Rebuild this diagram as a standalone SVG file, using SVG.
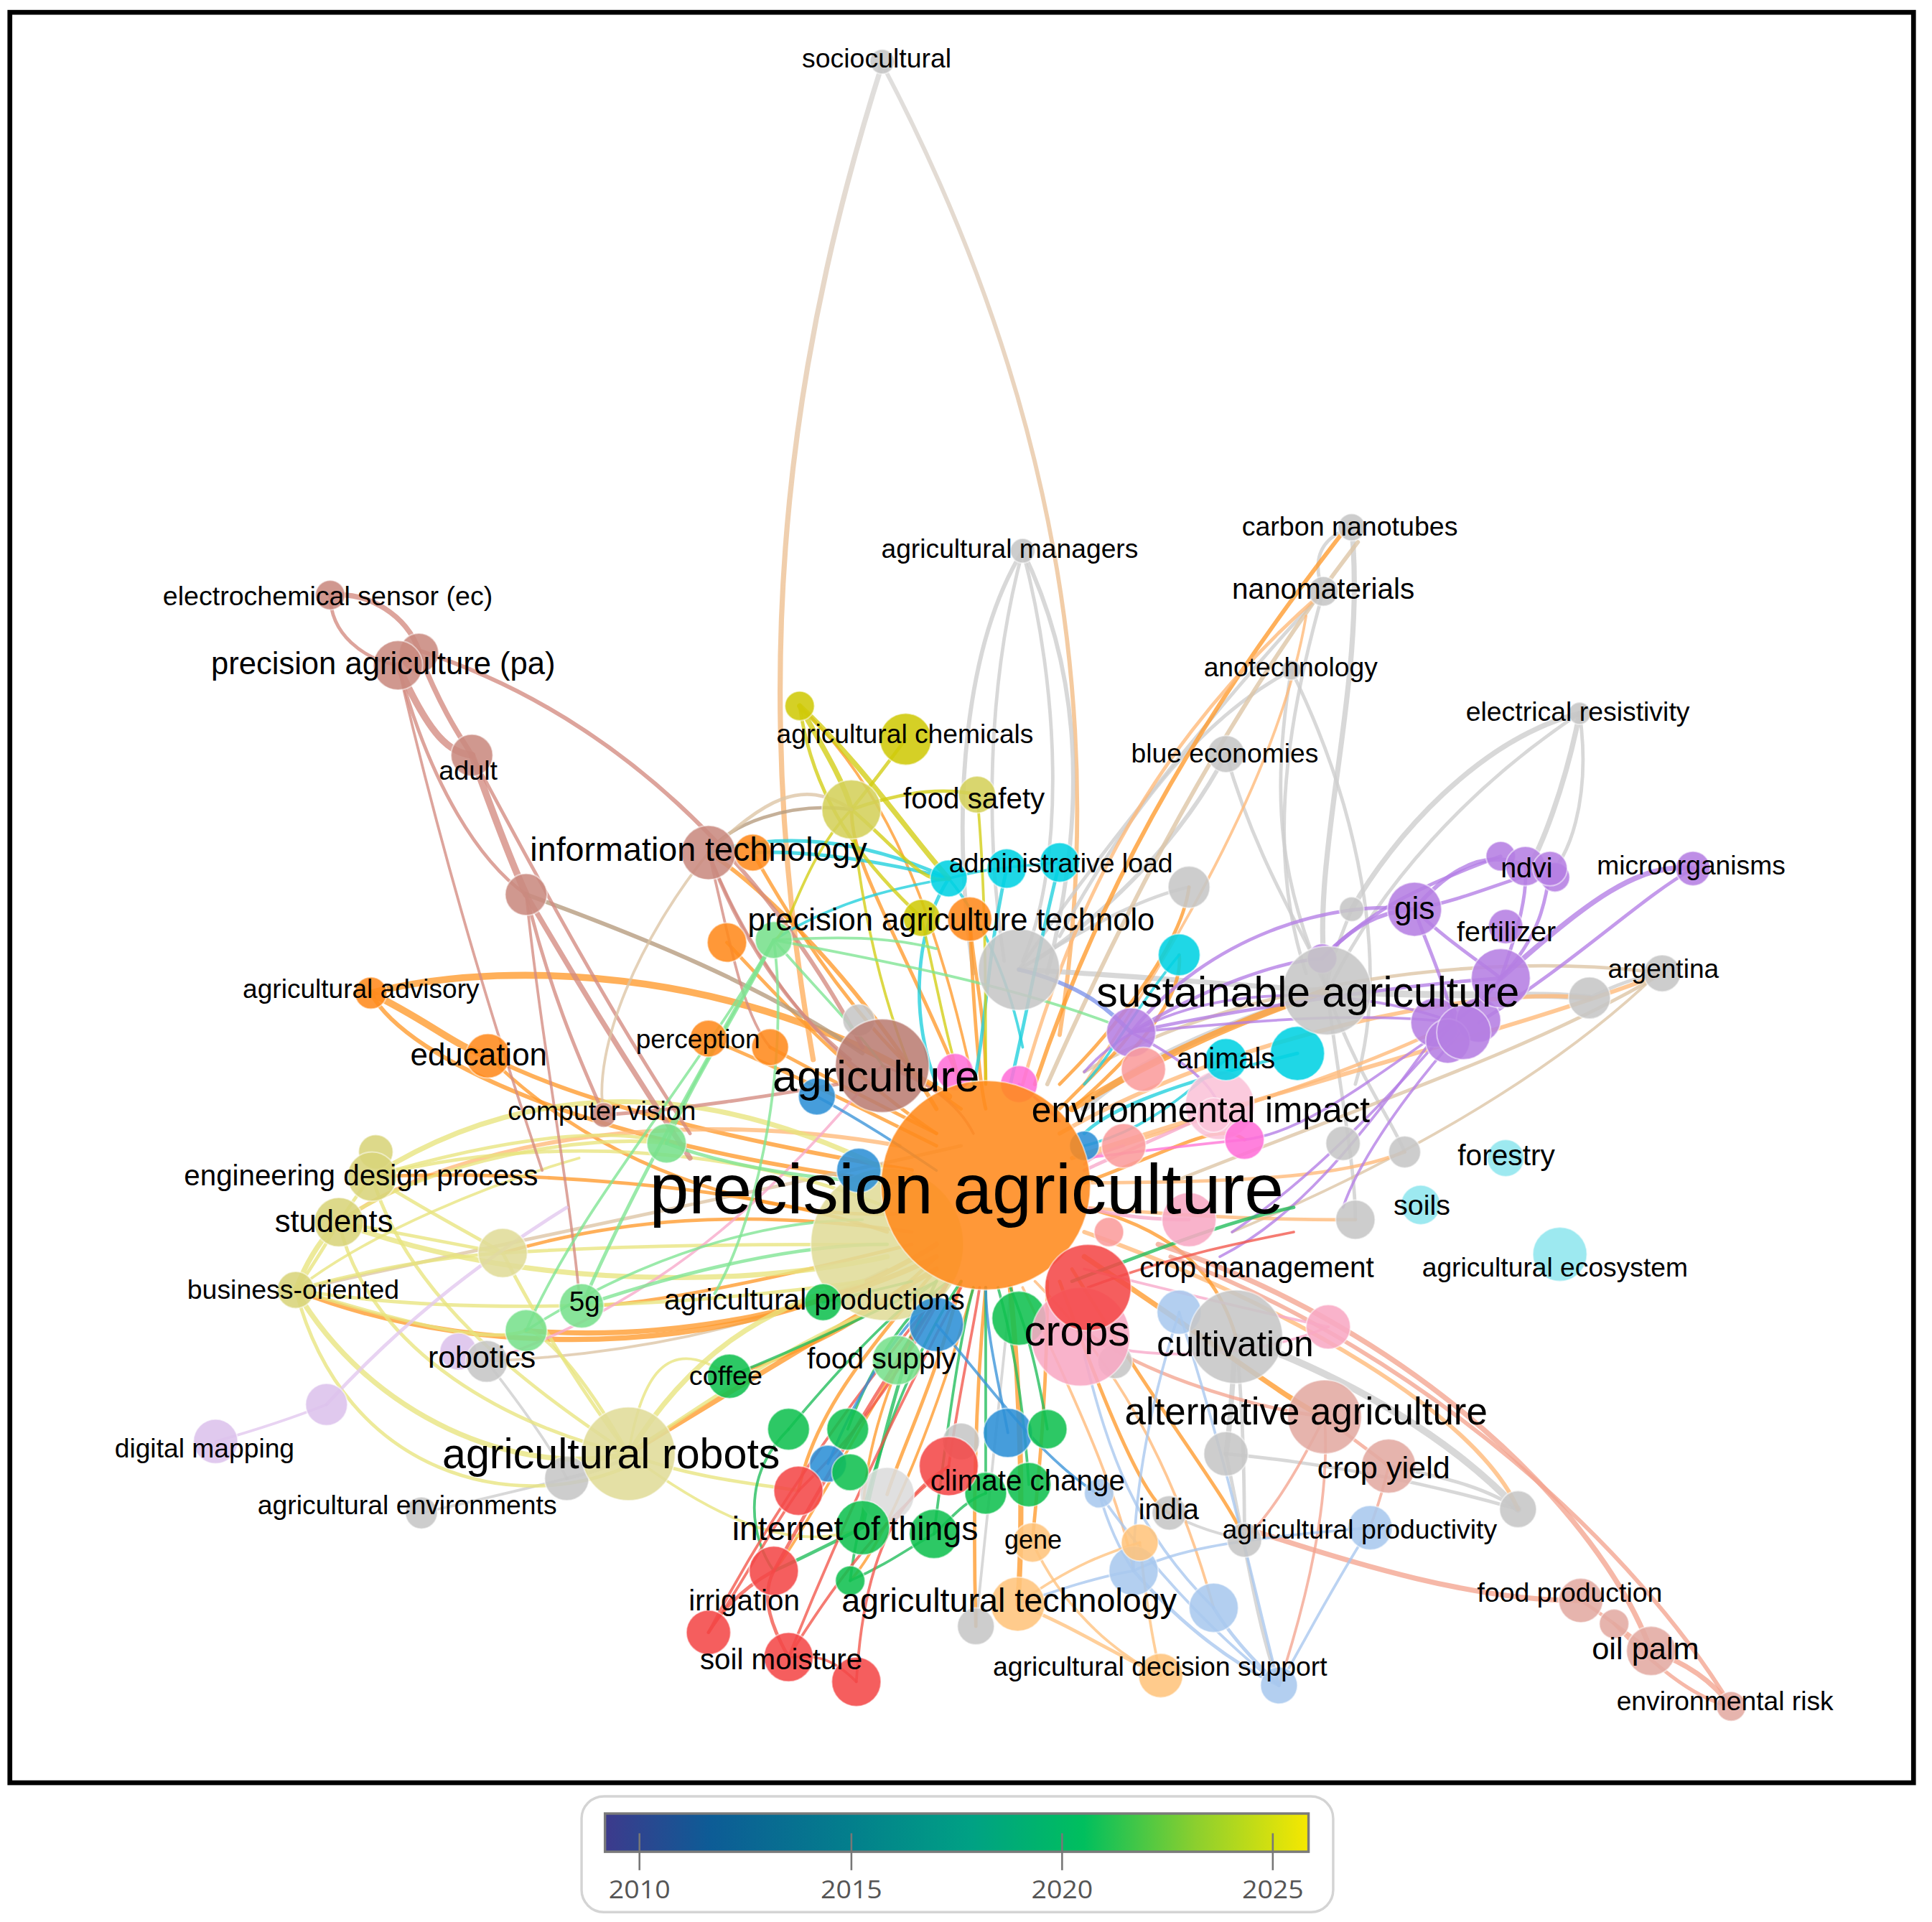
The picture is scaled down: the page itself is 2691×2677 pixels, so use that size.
<svg xmlns="http://www.w3.org/2000/svg" width="2691" height="2677" viewBox="0 0 2691 2677">
<defs>
<style>
.e{fill:none;stroke-linecap:round;stroke-opacity:.78}
.so{stroke:#ff9a2c}.sol{stroke:#ffb877}.sg{stroke:#cdcdcd}.sp{stroke:#b47ee6}.sc{stroke:#1fcfdc}.sy{stroke:#e8e47e}.syb{stroke:#d2cd12}.sb{stroke:#d38a80}.slg{stroke:#7de492}.sgn{stroke:#1fbd5a}.sr{stroke:#f2564a}.slb{stroke:#a8c6ee}.slo{stroke:#ffc27e}.ss{stroke:#f4a48f}.spk{stroke:#f7a8c9}.sm{stroke:#ff74d6}.sbl{stroke:#3a94d8}.slv{stroke:#e2c6ee}.st{stroke:#dcc4a4}.sbo{stroke:#b59a7c}.sbp{stroke:#7d93ea}
.n{stroke:#ffffff;stroke-opacity:.5;stroke-width:1.2;fill-opacity:.88}
.fo{fill:#ff8a1c}.fbr{fill:#c98a80}.fbd{fill:#bb7d73}.fpy{fill:#e0dc98}.fyl{fill:#d8d47a}.fyb{fill:#cfca08}.fyo{fill:#d4d05a}.fcy{fill:#00d2e2}.fpu{fill:#b57ee2}.fgr{fill:#c6c6c6}.fgn{fill:#10c050}.flg{fill:#78e08c}.frd{fill:#f44848}.fpk{fill:#f8a8c4}.fpp{fill:#fbc3d8}.fmg{fill:#ff70d8}.fsm{fill:#fa9c9c}.fbl{fill:#2c8fd6}.flb{fill:#a9c8ee}.flo{fill:#ffc47c}.flc{fill:#8fe6ee}.flv{fill:#dcc2ec}.fro{fill:#e3aaa2}.fgw{fill:#dcdcdc}
.l{font-family:"Liberation Sans",Arial,sans-serif;text-anchor:middle;fill:#000;transform:translateY(2px)}
.lg{font-family:"Open Sans","Noto Sans","Liberation Sans",sans-serif;text-anchor:middle;fill:#555}
.w1{stroke-width:2.2}.w2{stroke-width:2.8}.w3{stroke-width:3.4}.w4{stroke-width:4.2}.w5{stroke-width:5.6}
</style>
<linearGradient id="gsoc" gradientUnits="userSpaceOnUse" x1="0" y1="50" x2="0" y2="800">
<stop offset="0" stop-color="#d6d6d6"/><stop offset="1" stop-color="#ffae5c"/>
</linearGradient>
<linearGradient id="gleg" x1="0" y1="0" x2="1" y2="0">
<stop offset="0" stop-color="#3d3a8c"/><stop offset="0.15" stop-color="#0d5c96"/><stop offset="0.35" stop-color="#037f8c"/><stop offset="0.52" stop-color="#00a184"/><stop offset="0.68" stop-color="#00bf5e"/><stop offset="0.84" stop-color="#8ccf2e"/><stop offset="1" stop-color="#f6e800"/>
</linearGradient>
</defs>
<rect width="2691" height="2677" fill="#ffffff"/>
<g transform="scale(1.7162,1.716)">
<rect x="8" y="10" width="1545" height="1437" fill="none" stroke="#000" stroke-width="3.9"/>

<g id="connectors">
<path class="e w4" stroke="url(#gsoc)" d="M716,52 C650,260 600,520 660,860"/>
<path class="e w3" stroke="url(#gsoc)" d="M716,52 C820,250 910,520 860,840"/>
<path class="e sg w3" d="M830,447 C785,520 770,650 790,790"/>
<path class="e sg w2" d="M830,447 C800,560 800,680 815,780"/>
<path class="e sg w3" d="M830,447 C875,540 885,650 850,790"/>
<path class="e sg w2" d="M830,447 C860,560 865,700 830,780"/>
<path class="e sg w2" d="M1097,428 C1060,440 1070,470 1074,480"/>
<path class="e sg w4" d="M1097,428 C1110,560 1060,700 1077,804"/>
<path class="e sg w2" d="M1074,480 C1040,600 1030,700 1060,790"/>
<path class="e sg w2" d="M1074,480 C1000,560 900,680 827,787"/>
<path class="e sg w2" d="M1048,544 C1100,650 1130,780 1100,880"/>
<path class="e sg w2" d="M1048,544 C1030,650 1040,720 1077,804"/>
<path class="e sg w2" d="M1048,544 C980,580 920,650 860,760"/>
<path class="e sg w3" d="M995,612 C960,680 900,740 840,780"/>
<path class="e sg w2" d="M995,612 C1020,700 1060,760 1077,800"/>
<path class="e sg w4" d="M1282,579 C1200,600 1130,680 1097,738"/>
<path class="e sg w2" d="M1282,579 C1190,640 1120,720 1080,800"/>
<path class="e sg w4" d="M1282,579 C1270,640 1250,690 1240,705"/>
<path class="e sg w2" d="M1282,579 C1292,650 1272,700 1256,710"/>
<path class="e sg w2" d="M1097,738 C1080,780 1078,790 1077,804"/>
<path class="e sg w5" d="M1077,804 C1160,810 1250,805 1290,810"/>
<path class="e sg w2" d="M1290,810 C1310,800 1330,792 1349,790"/>
<path class="e sg w2" d="M1077,804 C1100,870 1130,910 1140,935"/>
<path class="e sg w2" d="M1077,804 C1090,900 1100,950 1100,990"/>
<path class="e sg w5" d="M1077,804 C1000,830 920,860 880,900"/>
<path class="e sg w5" d="M1003,1085 C1100,1120 1180,1170 1232,1225"/>
<path class="e sg w4" d="M1003,1085 C1000,1130 998,1160 995,1180"/>
<path class="e sg w2" d="M1003,1085 C1010,1150 1010,1220 1010,1250"/>
<path class="e sg w2" d="M995,1180 C1010,1250 1020,1320 1038,1368"/>
<path class="e sg w2" d="M995,1180 C1100,1190 1180,1210 1232,1225"/>
<path class="e sg w2" d="M827,787 C870,760 920,730 965,720"/>
<path class="e sg w4" d="M827,787 C900,790 1000,800 1077,804"/>
<path class="e sg w2" d="M460,1200 C480,1195 500,1190 510,1180"/>
<path class="e sg w1" d="M395,1105 C430,1150 450,1180 460,1200"/>
<path class="e st w1" d="M395,1105 C500,1100 620,1080 720,1030"/>
<path class="e sg w1" d="M342,1228 C400,1215 440,1205 460,1200"/>
<path class="e sg w2" d="M1127,1190 C1180,1200 1210,1210 1232,1225"/>
<path class="e sg w1" d="M949,1228 C970,1240 990,1245 1010,1250"/>
<path class="e sg w1" d="M792,1320 C800,1250 810,1150 820,1050"/>
<path class="e st w3" d="M850,880 C930,700 1010,560 1102,440"/>
<path class="e so w3" d="M840,880 C900,700 990,560 1090,432"/>
<path class="e sol w2" d="M830,880 C880,700 960,580 1072,482"/>
<path class="e sol w1" d="M880,880 C960,760 1040,620 1060,500"/>
<path class="e st w2" d="M1349,790 C1200,770 1000,800 880,870"/>
<path class="e st w2" d="M1349,790 C1250,850 1100,900 950,960"/>
<path class="e st w1" d="M1340,795 C1250,880 1120,950 1000,1000"/>
<path class="e so w5" d="M301,806 C420,775 620,790 770,890"/>
<path class="e so w3" d="M301,806 C330,860 480,930 730,960"/>
<path class="e so w5" d="M301,806 C350,830 370,850 396,857"/>
<path class="e so w3" d="M396,857 C480,900 620,930 740,950"/>
<path class="e so w2" d="M396,857 C500,960 640,990 730,985"/>
<path class="e so w4" d="M240,1047 C400,1110 620,1100 760,1010"/>
<path class="e sol w3" d="M275,992 C380,920 560,900 730,930"/>
<path class="e st w2" d="M240,1047 C450,1000 650,960 780,930"/>
<path class="e so w4" d="M427,1080 C550,1090 680,1060 760,1020"/>
<path class="e so w2" d="M575,843 C640,870 700,900 760,930"/>
<path class="e so w2" d="M625,850 C680,880 720,900 760,920"/>
<path class="e so w2" d="M590,765 C650,830 700,880 760,920"/>
<path class="e so w2" d="M611,692 C660,780 720,860 780,900"/>
<path class="e so w3" d="M760,900 C700,800 620,720 575,692"/>
<path class="e so w2" d="M787,746 C790,820 795,880 800,900"/>
<path class="e sol w3" d="M860,920 C1000,840 1200,800 1290,810"/>
<path class="e sol w3" d="M870,940 C1050,880 1250,830 1349,790"/>
<path class="e sol w2" d="M880,940 C1000,900 1100,870 1180,830"/>
<path class="e sol w2" d="M880,960 C1050,960 1100,950 1140,935"/>
<path class="e sol w2" d="M880,980 C1000,990 1060,990 1100,990"/>
<path class="e so w5" d="M870,900 C950,850 1030,820 1077,804"/>
<path class="e so w2" d="M870,900 C940,840 960,800 957,775"/>
<path class="e so w2" d="M860,880 C920,820 960,760 965,720"/>
<path class="e sol w3" d="M880,1000 C1050,1060 1200,1150 1232,1225"/>
<path class="e so w4" d="M880,1020 C1000,1100 1050,1140 1075,1150"/>
<path class="e so w2" d="M870,1030 C950,1160 1000,1220 1010,1250"/>
<path class="e so w2" d="M860,1040 C900,1150 930,1220 949,1228"/>
<path class="e so w2" d="M850,1040 C850,1150 840,1220 838,1252"/>
<path class="e so w4" d="M820,1045 C830,1150 830,1250 826,1302"/>
<path class="e so w2" d="M800,1045 C790,1150 790,1250 792,1320"/>
<path class="e so w2" d="M780,1040 C760,1120 730,1180 720,1213"/>
<path class="e so w2" d="M760,1030 C700,1100 660,1150 648,1210"/>
<path class="e so w4" d="M760,1030 C640,1100 560,1150 510,1180"/>
<path class="e so w2" d="M740,1010 C620,1040 520,1060 472,1060"/>
<path class="e so w2" d="M740,1000 C600,980 500,990 408,1017"/>
<path class="e so w2" d="M720,1000 C600,960 420,950 302,955"/>
<path class="e so w2" d="M760,1020 C700,1080 640,1100 592,1117"/>
<path class="e so w2" d="M880,980 C960,1000 990,1040 1003,1085"/>
<path class="e so w2" d="M800,880 C800,820 790,790 787,746"/>
<path class="e so w2" d="M780,880 C730,760 690,700 691,657"/>
<path class="e so w1" d="M790,880 C760,740 720,640 649,573"/>
<path class="e so w2" d="M860,900 C900,860 910,850 918,838"/>
<path class="e so w2" d="M880,960 C960,930 990,910 1010,925"/>
<path class="e so w1" d="M760,1040 C720,1120 700,1180 700,1240"/>
<path class="e so w1" d="M770,1040 C700,1150 650,1250 628,1275"/>
<path class="e so w1" d="M790,1045 C760,1150 720,1250 690,1283"/>
<path class="e sol w1" d="M830,1045 C880,1150 910,1220 920,1275"/>
<path class="e sol w1" d="M840,1040 C900,1100 950,1180 985,1305"/>
<path class="e ss w4" d="M940,1010 C1150,1080 1300,1230 1340,1340"/>
<path class="e ss w3" d="M950,1020 C1160,1100 1330,1260 1405,1385"/>
<path class="e ss w4" d="M1010,1240 C1100,1270 1200,1300 1283,1299"/>
<path class="e ss w2" d="M1283,1299 C1300,1310 1310,1318 1340,1340"/>
<path class="e ss w4" d="M1340,1340 C1370,1350 1390,1365 1405,1385"/>
<path class="e ss w2" d="M1310,1318 C1350,1360 1380,1380 1405,1385"/>
<path class="e ss w2" d="M1075,1150 C1100,1170 1115,1180 1127,1190"/>
<path class="e ss w2" d="M1075,1150 C1000,1140 920,1110 880,1080"/>
<path class="e ss w1" d="M1075,1150 C1050,1200 1030,1230 1010,1250"/>
<path class="e ss w1" d="M1127,1190 C1120,1220 1115,1230 1112,1240"/>
<path class="e ss w1" d="M1075,1150 C1080,1220 1060,1300 1038,1368"/>
<path class="e sp w3" d="M1148,738 C1180,700 1210,690 1238,703"/>
<path class="e sp w2" d="M1148,738 C1190,730 1220,715 1258,705"/>
<path class="e sp w2" d="M1148,738 C1170,760 1200,780 1218,794"/>
<path class="e sp w2" d="M1218,794 C1230,760 1240,730 1238,703"/>
<path class="e sp w2" d="M1218,794 C1250,760 1255,730 1258,705"/>
<path class="e sp w4" d="M1218,794 C1290,730 1330,700 1374,705"/>
<path class="e sp w2" d="M1200,830 C1280,780 1330,730 1374,705"/>
<path class="e sp w2" d="M918,838 C980,800 1040,780 1073,778"/>
<path class="e sp w2" d="M918,838 C980,760 1080,730 1148,738"/>
<path class="e sp w3" d="M1073,778 C1100,750 1120,740 1148,738"/>
<path class="e sp w2" d="M1073,778 C1110,740 1150,720 1218,695"/>
<path class="e sp w1" d="M1180,830 C1120,870 1060,920 1010,925"/>
<path class="e sp w1" d="M1180,830 C1120,900 1060,960 1000,1000"/>
<path class="e sp w1" d="M1165,840 C1100,930 1050,990 990,1020"/>
<path class="e sp w1" d="M1185,838 C1130,900 1100,950 1090,980"/>
<path class="e sp w1" d="M1180,830 C1100,820 1000,830 918,838"/>
<path class="e sp w1" d="M1180,830 C1100,800 950,790 880,870"/>
<path class="e sp w2" d="M1218,794 C1130,800 1000,820 918,838"/>
<path class="e sp w2" d="M1180,830 C1200,815 1210,805 1218,794"/>
<path class="e sp w2" d="M1180,830 C1170,790 1155,760 1148,738"/>
<path class="e sp w1" d="M918,838 C960,860 985,880 990,900"/>
<path class="e sbp w3" d="M827,787 C880,800 900,820 918,838"/>
<path class="e sc w2" d="M770,713 C740,760 740,830 760,880"/>
<path class="e sc w2" d="M817,705 C800,780 800,840 790,880"/>
<path class="e sc w2" d="M860,700 C840,780 830,840 820,880"/>
<path class="e sc w2" d="M770,713 C720,700 660,690 611,692"/>
<path class="e sc w2" d="M575,692 C650,670 720,690 770,713"/>
<path class="e sc w1" d="M770,713 C800,705 810,705 860,700"/>
<path class="e sc w2" d="M1053,855 C950,880 900,900 880,920"/>
<path class="e sc w1" d="M995,860 C950,900 920,920 880,930"/>
<path class="e sc w1" d="M957,775 C920,820 900,860 880,880"/>
<path class="e sc w1" d="M770,713 C800,750 820,800 830,850"/>
<path class="e sc w1" d="M628,763 C680,730 730,720 770,713"/>
<path class="e sy w4" d="M302,955 C420,880 560,870 720,950"/>
<path class="e sy w2" d="M302,955 C440,920 600,930 720,980"/>
<path class="e sy w4" d="M275,992 C400,1040 580,1050 720,1020"/>
<path class="e sy w2" d="M240,1047 C380,1070 560,1060 700,1040"/>
<path class="e sy w4" d="M240,1047 C300,1150 420,1200 510,1180"/>
<path class="e sy w2" d="M240,1047 C280,1200 420,1230 510,1190"/>
<path class="e sy w2" d="M275,992 C300,1100 420,1160 510,1180"/>
<path class="e sy w2" d="M302,955 C330,1050 420,1120 510,1180"/>
<path class="e sy w2" d="M408,1017 C440,1080 480,1140 510,1180"/>
<path class="e sy w2" d="M408,1017 C520,1010 620,1010 720,1010"/>
<path class="e sy w2" d="M302,955 C340,980 380,1000 408,1017"/>
<path class="e sy w2" d="M275,992 C320,1000 370,1010 408,1017"/>
<path class="e sy w2" d="M240,1047 C300,1030 360,1020 408,1017"/>
<path class="e sy w4" d="M240,1047 C250,1020 265,1000 275,992"/>
<path class="e sy w2" d="M302,955 C280,980 260,1020 240,1047"/>
<path class="e sy w4" d="M510,1180 C560,1100 620,1060 700,1040"/>
<path class="e sy w2" d="M510,1180 C600,1120 660,1080 720,1060"/>
<path class="e sy w2" d="M510,1180 C470,1110 440,1080 427,1080"/>
<path class="e sy w2" d="M510,1180 C560,1200 620,1205 648,1210"/>
<path class="e sy w1" d="M510,1180 C590,1240 650,1260 700,1240"/>
<path class="e sy w2" d="M275,992 C350,940 480,920 541,928"/>
<path class="e sy w2" d="M240,1047 C350,1080 400,1090 427,1080"/>
<path class="e sy w2" d="M302,955 C420,920 500,915 541,928"/>
<path class="e sy w1" d="M510,1180 C520,1120 540,1080 592,1117"/>
<path class="e sy w1" d="M240,1047 C300,1000 400,960 470,940"/>
<path class="e syb w4" d="M649,573 C670,610 685,635 691,657"/>
<path class="e syb w4" d="M649,573 C700,620 740,680 770,713"/>
<path class="e syb w2" d="M649,573 C660,650 700,700 748,745"/>
<path class="e syb w2" d="M735,600 C720,620 705,640 691,657"/>
<path class="e syb w2" d="M691,657 C730,690 750,720 770,713"/>
<path class="e syb w2" d="M691,657 C740,640 770,640 793,645"/>
<path class="e syb w1" d="M691,657 C700,750 720,820 740,870"/>
<path class="e syb w1" d="M691,657 C650,700 640,760 628,763"/>
<path class="e sbo w2" d="M691,657 C640,650 590,670 575,692"/>
<path class="e syb w1" d="M748,745 C760,800 770,850 780,880"/>
<path class="e syb w1" d="M793,645 C800,720 800,800 800,880"/>
<path class="e sb w4" d="M268,483 C300,480 330,500 340,528"/>
<path class="e sb w2" d="M268,483 C268,515 295,535 323,540"/>
<path class="e sb w5" d="M323,540 C350,600 365,610 383,613"/>
<path class="e sb w4" d="M340,530 C360,580 375,600 383,613"/>
<path class="e sb w5" d="M383,613 C400,660 415,700 427,726"/>
<path class="e sb w2" d="M323,540 C350,640 390,700 427,726"/>
<path class="e sb w3" d="M340,528 C500,580 620,700 700,850"/>
<path class="e sb w4" d="M427,726 C470,800 520,880 560,940"/>
<path class="e sbo w3" d="M427,726 C520,760 620,800 700,855"/>
<path class="e sb w2" d="M427,726 C450,820 480,880 490,905"/>
<path class="e sb w1" d="M427,726 C440,850 460,950 470,1050"/>
<path class="e sb w2" d="M383,613 C440,720 500,830 560,920"/>
<path class="e sb w1" d="M323,540 C360,700 400,830 440,950"/>
<path class="e sb w2" d="M575,692 C600,760 640,820 690,860"/>
<path class="e sb w1" d="M575,692 C610,780 660,840 700,870"/>
<path class="e sb w1" d="M575,692 C590,750 600,820 625,850"/>
<path class="e st w1" d="M575,692 C520,760 480,850 490,905"/>
<path class="e sb w2" d="M490,905 C560,900 620,890 680,880"/>
<path class="e st w2" d="M575,692 C620,650 650,630 691,657"/>
<path class="e spk w1" d="M716,865 C650,940 560,1050 395,1105"/>
<path class="e sb w1" d="M716,865 C760,880 780,900 790,920"/>
<path class="e slg w2" d="M628,763 C600,820 560,880 541,928"/>
<path class="e slg w2" d="M628,763 C580,850 520,950 472,1060"/>
<path class="e slg w1" d="M628,763 C560,880 470,980 427,1080"/>
<path class="e slg w1" d="M628,763 C660,800 700,840 720,870"/>
<path class="e slg w1" d="M628,763 C680,760 720,760 760,770"/>
<path class="e slg w2" d="M541,928 C600,950 680,960 740,960"/>
<path class="e slg w2" d="M472,1060 C560,1030 650,1010 720,1010"/>
<path class="e slg w1" d="M427,1080 C520,1020 620,990 700,990"/>
<path class="e slg w1" d="M628,763 C720,780 820,800 900,830"/>
<path class="e slg w1" d="M628,763 C640,850 620,980 580,1050"/>
<path class="e sgn w2" d="M700,1240 C720,1150 740,1080 760,1040"/>
<path class="e sgn w1" d="M640,1160 C690,1100 730,1060 760,1040"/>
<path class="e sgn w1" d="M688,1160 C710,1100 740,1060 770,1040"/>
<path class="e sgn w1" d="M690,1283 C700,1200 740,1100 780,1040"/>
<path class="e sgn w1" d="M758,1245 C770,1150 780,1080 790,1045"/>
<path class="e sgn w1" d="M800,1212 C800,1150 800,1080 800,1045"/>
<path class="e sgn w1" d="M835,1205 C830,1130 820,1080 810,1045"/>
<path class="e sgn w1" d="M850,1160 C840,1100 830,1070 820,1045"/>
<path class="e sgn w1" d="M592,1117 C660,1090 720,1060 760,1040"/>
<path class="e sgn w2" d="M700,1240 C660,1260 640,1270 628,1275"/>
<path class="e sgn w1" d="M640,1160 C600,1200 610,1250 628,1275"/>
<path class="e sgn w1" d="M728,1104 C740,1080 760,1060 770,1040"/>
<path class="e sgn w1" d="M668,1057 C700,1050 720,1045 740,1040"/>
<path class="e sgn w2" d="M870,1040 C950,1010 1000,990 1050,980"/>
<path class="e sgn w1" d="M690,1283 C720,1270 740,1255 758,1245"/>
<path class="e sgn w1" d="M800,1212 C780,1220 770,1235 758,1245"/>
<path class="e sr w2" d="M628,1275 C680,1180 730,1100 770,1040"/>
<path class="e sr w1" d="M575,1325 C640,1200 720,1100 770,1040"/>
<path class="e sr w1" d="M640,1345 C690,1220 740,1120 780,1045"/>
<path class="e sr w1" d="M695,1365 C700,1280 720,1220 770,1190"/>
<path class="e sr w2" d="M640,1345 C620,1310 620,1290 628,1275"/>
<path class="e sr w2" d="M575,1325 C590,1300 610,1285 628,1275"/>
<path class="e sr w1" d="M648,1210 C700,1160 740,1100 770,1040"/>
<path class="e sr w1" d="M770,1190 C780,1120 790,1080 795,1045"/>
<path class="e sr w1" d="M883,1045 C950,1020 1000,1010 1050,1000"/>
<path class="e sr w1" d="M648,1210 C620,1250 600,1290 575,1325"/>
<path class="e sr w1" d="M695,1365 C670,1340 655,1345 640,1345"/>
<path class="e sr w1" d="M640,1345 C680,1280 720,1230 770,1190"/>
<path class="e slb w2" d="M920,1275 C960,1320 1000,1350 1038,1368"/>
<path class="e slb w2" d="M985,1305 C1000,1330 1020,1350 1038,1368"/>
<path class="e slb w1" d="M892,1212 C940,1280 990,1330 1038,1368"/>
<path class="e slb w1" d="M1112,1240 C1080,1290 1060,1330 1038,1368"/>
<path class="e slb w1" d="M920,1275 C950,1260 990,1250 1112,1240"/>
<path class="e slb w1" d="M957,1065 C930,1150 920,1220 920,1275"/>
<path class="e slb w1" d="M892,1212 C900,1240 910,1260 920,1275"/>
<path class="e slb w1" d="M957,1065 C1000,1200 1020,1300 1038,1368"/>
<path class="e slb w1" d="M880,1100 C900,1180 920,1240 985,1305"/>
<path class="e slb w1" d="M826,1302 C860,1290 890,1280 920,1275"/>
<path class="e slo w2" d="M826,1302 C870,1320 900,1340 942,1360"/>
<path class="e slo w1" d="M838,1252 C860,1300 900,1340 942,1360"/>
<path class="e slo w1" d="M925,1252 C930,1300 935,1330 942,1360"/>
<path class="e slo w1" d="M826,1302 C870,1270 900,1260 925,1252"/>
<path class="e spk w2" d="M990,900 C950,920 900,940 880,950"/>
<path class="e spk w2" d="M965,990 C930,990 900,985 880,980"/>
<path class="e spk w1" d="M1078,1077 C1000,1060 920,1040 880,1030"/>
<path class="e spk w1" d="M912,930 C895,935 885,940 880,945"/>
<path class="e sm w1" d="M1010,925 C960,930 920,935 880,940"/>
<path class="e sm w1" d="M827,880 C840,890 850,900 860,910"/>
<path class="e spk w1" d="M877,1085 C900,1100 1000,1110 1078,1077"/>
<path class="e sbl w1" d="M663,890 C700,910 730,930 760,950"/>
<path class="e sbl w1" d="M818,1163 C810,1120 800,1080 800,1045"/>
<path class="e sbl w1" d="M760,1075 C800,1120 840,1180 890,1212"/>
<path class="e sbl w1" d="M672,1188 C700,1120 730,1080 760,1050"/>
<path class="e slv w2" d="M265,1140 C320,1080 380,1030 460,980"/>
<path class="e slv w1" d="M175,1170 C210,1160 240,1150 265,1140"/>
</g>

<g id="n-pa-yellow-big"><circle class="n fpy" cx="720" cy="1010" r="62"/></g>
<g id="n-grey-big"><circle class="n fgr" cx="827" cy="787" r="33"/></g>
<g id="n-grey-965"><circle class="n fgr" cx="965" cy="720" r="17"/></g>
<g id="n-grey-1097"><circle class="n fgr" cx="1097" cy="738" r="10"/></g>
<g id="n-grey-1290"><circle class="n fgr" cx="1290" cy="810" r="17"/></g>
<g id="n-grey-1140"><circle class="n fgr" cx="1140" cy="935" r="13"/></g>
<g id="n-grey-1090"><circle class="n fgr" cx="1090" cy="928" r="14"/></g>
<g id="n-grey-1100"><circle class="n fgr" cx="1100" cy="990" r="16"/></g>
<g id="n-grey-697"><circle class="n fgr" cx="697" cy="828" r="13"/></g>
<g id="n-grey-905"><circle class="n fgr" cx="905" cy="1105" r="14"/></g>
<g id="n-grey-995"><circle class="n fgr" cx="995" cy="1180" r="18"/></g>
<g id="n-grey-1010"><circle class="n fgr" cx="1010" cy="1250" r="14"/></g>
<g id="n-grey-1232"><circle class="n fgr" cx="1232" cy="1225" r="15"/></g>
<g id="n-grey-792"><circle class="n fgr" cx="792" cy="1320" r="15"/></g>
<g id="n-grey-460"><circle class="n fgr" cx="460" cy="1200" r="18"/></g>
<g id="n-grey-720"><circle class="n fgw" cx="720" cy="1213" r="22"/></g>
<g id="n-grey-780"><circle class="n fgr" cx="780" cy="1170" r="15"/></g>
<g id="n-purple-918"><circle class="n fpu" cx="918" cy="838" r="20"/></g>
<g id="n-purple-1073"><circle class="n fpu" cx="1073" cy="778" r="12"/></g>
<g id="n-purple-cluster">
<circle class="n fpu" cx="1165" cy="830" r="20"/><circle class="n fpu" cx="1200" cy="828" r="18"/><circle class="n fpu" cx="1175" cy="845" r="18"/><circle class="n fpu" cx="1188" cy="838" r="22"/>
</g>
<g id="n-purple-1218"><circle class="n fpu" cx="1218" cy="794" r="24"/></g>
<g id="n-cyan-957"><circle class="n fcy" cx="957" cy="775" r="17"/></g>
<g id="n-cyan-1053"><circle class="n fcy" cx="1053" cy="855" r="22"/></g>
<g id="n-pink-775"><circle class="n fmg" cx="775" cy="870" r="15"/></g>
<g id="n-pink-827"><circle class="n fmg" cx="827" cy="880" r="15"/></g>
<g id="n-salmon-928"><circle class="n fsm" cx="928" cy="868" r="18"/></g>
<g id="n-pink-990"><circle class="n fpp" cx="990" cy="897" r="28"/></g>
<g id="n-mag-1010"><circle class="n fmg" cx="1010" cy="925" r="16"/></g>
<g id="n-salmon-912"><circle class="n fsm" cx="912" cy="930" r="18"/></g>
<g id="n-pink-965"><circle class="n fpk" cx="965" cy="990" r="22"/></g>
<g id="n-pink-1078"><circle class="n fpk" cx="1078" cy="1077" r="18"/></g>
<g id="n-salmon-900"><circle class="n fsm" cx="900" cy="1000" r="12"/></g>
<g id="n-blue-663"><circle class="n fbl" cx="663" cy="890" r="15"/></g>
<g id="n-blue-697"><circle class="n fbl" cx="697" cy="950" r="18"/></g>
<g id="n-blue-880"><circle class="n fbl" cx="880" cy="930" r="12"/></g>
<g id="n-blue-760"><circle class="n fbl" cx="760" cy="1075" r="22"/></g>
<g id="n-blue-818"><circle class="n fbl" cx="818" cy="1163" r="20"/></g>
<g id="n-blue-672"><circle class="n fbl" cx="672" cy="1188" r="15"/></g>
<g id="n-lblue-957"><circle class="n flb" cx="957" cy="1065" r="18"/></g>
<g id="n-lblue-892"><circle class="n flb" cx="892" cy="1212" r="12"/></g>
<g id="n-lblue-920"><circle class="n flb" cx="920" cy="1275" r="20"/></g>
<g id="n-lblue-985"><circle class="n flb" cx="985" cy="1305" r="20"/></g>
<g id="n-lblue-1038"><circle class="n flb" cx="1038" cy="1368" r="15"/></g>
<g id="n-green-827"><circle class="n fgn" cx="827" cy="1070" r="22"/></g>
<g id="n-green-640"><circle class="n fgn" cx="640" cy="1160" r="17"/></g>
<g id="n-green-688"><circle class="n fgn" cx="688" cy="1160" r="17"/></g>
<g id="n-green-690"><circle class="n fgn" cx="690" cy="1195" r="15"/></g>
<g id="n-green-850"><circle class="n fgn" cx="850" cy="1160" r="16"/></g>
<g id="n-green-800"><circle class="n fgn" cx="800" cy="1212" r="17"/></g>
<g id="n-green-758"><circle class="n fgn" cx="758" cy="1245" r="20"/></g>
<g id="n-green-690b"><circle class="n fgn" cx="690" cy="1283" r="12"/></g>
<g id="n-lgreen-541"><circle class="n flg" cx="541" cy="928" r="16"/></g>
<g id="n-lgreen-427"><circle class="n flg" cx="427" cy="1080" r="17"/></g>
<g id="n-red-648"><circle class="n frd" cx="648" cy="1210" r="20"/></g>
<g id="n-red-575"><circle class="n frd" cx="575" cy="1325" r="18"/></g>
<g id="n-red-695"><circle class="n frd" cx="695" cy="1365" r="20"/></g>
<g id="n-orange-625"><circle class="n fo" cx="625" cy="850" r="15"/></g>
<g id="n-orange-611"><circle class="n fo" cx="611" cy="692" r="15"/></g>
<g id="n-orange-590"><circle class="n fo" cx="590" cy="765" r="16"/></g>
<g id="n-orange-787"><circle class="n fo" cx="787" cy="746" r="18"/></g>
<g id="n-lorange-925"><circle class="n flo" cx="925" cy="1252" r="15"/></g>
<g id="n-brown-427"><circle class="n fbr" cx="427" cy="726" r="17"/></g>
<g id="n-brown-340"><circle class="n fbr" cx="340" cy="530" r="16"/></g>
<g id="n-yellow-408"><circle class="n fpy" cx="408" cy="1017" r="20"/></g>
<g id="n-yellow-649"><circle class="n fyb" cx="649" cy="573" r="12"/></g>
<g id="n-yellow-691"><circle class="n fyo" cx="691" cy="657" r="24"/></g>
<g id="n-yellow-748"><circle class="n fyb" cx="748" cy="745" r="15"/></g>
<g id="n-cyan-770"><circle class="n fcy" cx="770" cy="713" r="15"/></g>
<g id="n-cyan-817"><circle class="n fcy" cx="817" cy="705" r="16"/></g>
<g id="n-lgreen-628"><circle class="n flg" cx="628" cy="763" r="15"/></g>
<g id="n-lav-265"><circle class="n flv" cx="265" cy="1140" r="17"/></g>
<g id="n-lav-372"><circle class="n flv" cx="372" cy="1097" r="15"/></g>
<g id="n-rosy-1310"><circle class="n fro" cx="1310" cy="1318" r="12"/></g>
<g id="n-yellow-305"><circle class="n fyl" cx="305" cy="935" r="14"/></g>
<g id="n-ndvi-extra"><circle class="n fpu" cx="1218" cy="695" r="12"/><circle class="n fpu" cx="1262" cy="712" r="12"/></g>

<g id="n-precision-agriculture"><circle class="n fo" cx="800" cy="962" r="85"/></g>
<g id="n-agriculture"><circle class="n fbd" cx="716" cy="865" r="38"/></g>
<g id="n-sustainable-agriculture"><circle class="n fgr" cx="1077" cy="804" r="36"/></g>
<g id="n-crops"><circle class="n fpk" cx="877" cy="1085" r="40"/></g>
<g id="n-cultivation"><circle class="n fgr" cx="1003" cy="1085" r="38"/></g>
<g id="n-crop-management"><circle class="n frd" cx="883" cy="1045" r="35"/></g>
<g id="n-agricultural-robots"><circle class="n fpy" cx="510" cy="1180" r="38"/></g>
<g id="n-alternative-agriculture"><circle class="n fro" cx="1075" cy="1150" r="30"/></g>
<g id="n-internet-of-things"><circle class="n fgn" cx="700" cy="1240" r="22"/></g>
<g id="n-agricultural-technology"><circle class="n flo" cx="826" cy="1302" r="22"/></g>
<g id="n-information-technology"><circle class="n fbr" cx="575" cy="692" r="22"/></g>
<g id="n-environmental-impact"><circle class="n fpp" cx="985" cy="905" r="14"/></g>

<g id="n-sociocultural"><circle class="n fgr" cx="716" cy="50" r="10"/><text class="l" x="711.5" y="53" font-size="21.8">sociocultural</text></g>
<g id="n-agricultural-managers"><circle class="n fgr" cx="830" cy="447" r="10"/><text class="l" x="819.5" y="451" font-size="21.7">agricultural managers</text></g>
<g id="n-carbon-nanotubes"><circle class="n fgr" cx="1097" cy="428" r="11"/><text class="l" x="1095.5" y="433" font-size="21.9">carbon nanotubes</text></g>
<g id="n-nanomaterials"><circle class="n fgr" cx="1074" cy="480" r="12"/><text class="l" x="1074" y="484" font-size="23.6">nanomaterials</text></g>
<g id="n-anotechnology"><circle class="n fgr" cx="1048" cy="544" r="8"/><text class="l" x="1047.5" y="547" font-size="21.7">anotechnology</text></g>
<g id="n-electrical-resistivity"><circle class="n fgr" cx="1282" cy="579" r="9"/><text class="l" x="1280.5" y="583" font-size="21.8">electrical resistivity</text></g>
<g id="n-blue-economies"><circle class="n fgr" cx="995" cy="612" r="15"/><text class="l" x="994" y="617" font-size="21.7">blue economies</text></g>
<g id="n-electrochemical-sensor"><circle class="n fbr" cx="268" cy="483" r="12"/><text class="l" x="266" y="489" font-size="21.9">electrochemical sensor (ec)</text></g>
<g id="n-precision-agriculture-pa"><circle class="n fbr" cx="323" cy="540" r="20"/><text class="l" x="311" y="545" font-size="25.4">precision agriculture (pa)</text></g>
<g id="n-adult"><circle class="n fbr" cx="383" cy="613" r="17"/><text class="l" x="380" y="631" font-size="22">adult</text></g>
<g id="n-agricultural-chemicals"><circle class="n fyb" cx="735" cy="600" r="21"/><text class="l" x="734.5" y="601" font-size="21.7">agricultural chemicals</text></g>
<g id="n-food-safety"><circle class="n fyo" cx="793" cy="645" r="15"/><text class="l" x="790.5" y="654" font-size="23.5">food safety</text></g>
<g id="n-information-technology-label"><text class="l" x="567" y="697" font-size="27.2">information technology</text></g>
<g id="n-administrative-load"><circle class="n fcy" cx="860" cy="700" r="16"/><text class="l" x="861" y="706" font-size="21.8">administrative load</text></g>
<g id="n-ndvi"><circle class="n fpu" cx="1238" cy="703" r="16"/><circle class="n fpu" cx="1258" cy="705" r="14"/><text class="l" x="1239" y="710" font-size="23">ndvi</text></g>
<g id="n-microorganisms"><circle class="n fpu" cx="1374" cy="705" r="14"/><text class="l" x="1372.5" y="708" font-size="21.7">microorganisms</text></g>
<g id="n-gis"><circle class="n fpu" cx="1148" cy="738" r="22"/><text class="l" x="1148" y="744" font-size="25.8">gis</text></g>
<g id="n-fertilizer"><circle class="n fpu" cx="1222" cy="752" r="14"/><text class="l" x="1222.5" y="762" font-size="23">fertilizer</text></g>
<g id="n-precision-agriculture-technolo"><text class="l" x="772" y="753" font-size="25.4">precision agriculture technolo</text></g>
<g id="n-agricultural-advisory"><circle class="n fo" cx="301" cy="806" r="13"/><text class="l" x="293" y="808" font-size="21.6">agricultural advisory</text></g>
<g id="n-argentina"><circle class="n fgr" cx="1349" cy="790" r="15"/><text class="l" x="1350" y="792" font-size="21.6">argentina</text></g>
<g id="n-education"><circle class="n fo" cx="396" cy="857" r="18"/><text class="l" x="388.5" y="863" font-size="25.6">education</text></g>
<g id="n-perception"><circle class="n fo" cx="575" cy="843" r="15"/><text class="l" x="566.5" y="849" font-size="21.6">perception</text></g>
<g id="n-animals"><circle class="n fcy" cx="995" cy="860" r="17"/><text class="l" x="995" y="865" font-size="23.2">animals</text></g>
<g id="n-computer-vision"><circle class="n fbr" cx="490" cy="905" r="10"/><text class="l" x="488.5" y="907" font-size="21.8">computer vision</text></g>
<g id="n-forestry"><circle class="n flc" cx="1222" cy="940" r="15"/><text class="l" x="1222.5" y="944" font-size="23.7">forestry</text></g>
<g id="n-engineering-design-process"><circle class="n fyl" cx="302" cy="955" r="20"/><text class="l" x="293" y="960" font-size="23.5">engineering design process</text></g>
<g id="n-soils"><circle class="n flc" cx="1153" cy="978" r="16"/><text class="l" x="1154" y="984" font-size="23">soils</text></g>
<g id="n-students"><circle class="n fyl" cx="275" cy="992" r="20"/><text class="l" x="271" y="998" font-size="25.4">students</text></g>
<g id="n-agricultural-ecosystem"><circle class="n flc" cx="1266" cy="1018" r="22"/><text class="l" x="1262" y="1034" font-size="21.7">agricultural ecosystem</text></g>
<g id="n-business-oriented"><circle class="n fyl" cx="240" cy="1047" r="15"/><text class="l" x="238" y="1052" font-size="21.8">business-oriented</text></g>
<g id="n-5g"><circle class="n flg" cx="472" cy="1060" r="18"/><text class="l" x="474.5" y="1062" font-size="22.5">5g</text></g>
<g id="n-agricultural-productions"><circle class="n fgn" cx="668" cy="1057" r="15"/><text class="l" x="661" y="1061" font-size="23.6">agricultural productions</text></g>
<g id="n-robotics"><circle class="n fgr" cx="395" cy="1105" r="17"/><text class="l" x="391" y="1108" font-size="25">robotics</text></g>
<g id="n-food-supply"><circle class="n flg" cx="728" cy="1104" r="20"/><text class="l" x="715.5" y="1109" font-size="23.7">food supply</text></g>
<g id="n-coffee"><circle class="n fgn" cx="592" cy="1117" r="18"/><text class="l" x="589" y="1122" font-size="22">coffee</text></g>
<g id="n-digital-mapping"><circle class="n flv" cx="175" cy="1170" r="18"/><text class="l" x="166" y="1181" font-size="21.7">digital mapping</text></g>
<g id="n-crop-yield"><circle class="n fro" cx="1127" cy="1190" r="22"/><text class="l" x="1123" y="1198" font-size="25.2">crop yield</text></g>
<g id="n-climate-change"><circle class="n frd" cx="770" cy="1190" r="24"/><circle class="n fgn" cx="835" cy="1205" r="18"/><text class="l" x="834" y="1208" font-size="23.5">climate change</text></g>
<g id="n-agricultural-environments"><circle class="n fgr" cx="342" cy="1228" r="13"/><text class="l" x="330.5" y="1227" font-size="21.75">agricultural environments</text></g>
<g id="n-india"><circle class="n fgr" cx="949" cy="1228" r="14"/><text class="l" x="948.5" y="1231" font-size="23.2">india</text></g>
<g id="n-agricultural-productivity"><circle class="n flb" cx="1112" cy="1240" r="18"/><text class="l" x="1103.5" y="1247" font-size="21.8">agricultural productivity</text></g>
<g id="n-gene"><circle class="n flo" cx="838" cy="1252" r="16"/><text class="l" x="838.5" y="1255" font-size="21">gene</text></g>
<g id="n-food-production"><circle class="n fro" cx="1283" cy="1299" r="18"/><text class="l" x="1274" y="1298" font-size="21.8">food production</text></g>
<g id="n-irrigation"><circle class="n frd" cx="628" cy="1275" r="20"/><text class="l" x="604" y="1305" font-size="23.5">irrigation</text></g>
<g id="n-oil-palm"><circle class="n fro" cx="1340" cy="1340" r="20"/><text class="l" x="1335.5" y="1345" font-size="25.3">oil palm</text></g>
<g id="n-soil-moisture"><circle class="n frd" cx="640" cy="1345" r="20"/><text class="l" x="634" y="1353" font-size="23.5">soil moisture</text></g>
<g id="n-agricultural-decision-support"><circle class="n flo" cx="942" cy="1360" r="18"/><text class="l" x="941.5" y="1358" font-size="21.8">agricultural decision support</text></g>
<g id="n-environmental-risk"><circle class="n fro" cx="1405" cy="1385" r="12"/><text class="l" x="1400" y="1386" font-size="21.7">environmental risk</text></g>

<g id="labels-major">
<text class="l" x="711" y="884" font-size="36">agriculture</text>
<text class="l" x="1061.5" y="815" font-size="34.3">sustainable agriculture</text>
<text class="l" x="974.5" y="909" font-size="28.9">environmental impact</text>
<text class="l" x="1020" y="1035" font-size="23.6">crop management</text>
<text class="l" x="874" y="1090" font-size="35">crops</text>
<text class="l" x="1002.5" y="1099" font-size="28.6">cultivation</text>
<text class="l" x="1060" y="1154" font-size="30.8">alternative agriculture</text>
<text class="l" x="496" y="1190" font-size="34.5">agricultural robots</text>
<text class="l" x="694" y="1248" font-size="27">internet of things</text>
<text class="l" x="819" y="1306" font-size="27.2">agricultural technology</text>
<text class="l" x="784.5" y="983" font-size="57.6" textLength="515" lengthAdjust="spacingAndGlyphs">precision agriculture</text>
</g>

<g id="legend">
<rect x="472" y="1458" width="610" height="94" rx="18" fill="#fff" stroke="#d4d4d4" stroke-width="2"/>
<rect x="491" y="1472" width="571" height="31" fill="url(#gleg)" stroke="#7a7a7a" stroke-width="2"/>
<g stroke="#777" stroke-width="1.5">
<line x1="519" y1="1488" x2="519" y2="1518"/><line x1="691" y1="1488" x2="691" y2="1518"/><line x1="862" y1="1488" x2="862" y2="1518"/><line x1="1033" y1="1488" x2="1033" y2="1518"/>
</g>
<text class="lg" x="519" y="1541" font-size="20" textLength="50" lengthAdjust="spacingAndGlyphs">2010</text>
<text class="lg" x="691" y="1541" font-size="20" textLength="50" lengthAdjust="spacingAndGlyphs">2015</text>
<text class="lg" x="862" y="1541" font-size="20" textLength="50" lengthAdjust="spacingAndGlyphs">2020</text>
<text class="lg" x="1033" y="1541" font-size="20" textLength="50" lengthAdjust="spacingAndGlyphs">2025</text>
</g>
</g>
</svg>
